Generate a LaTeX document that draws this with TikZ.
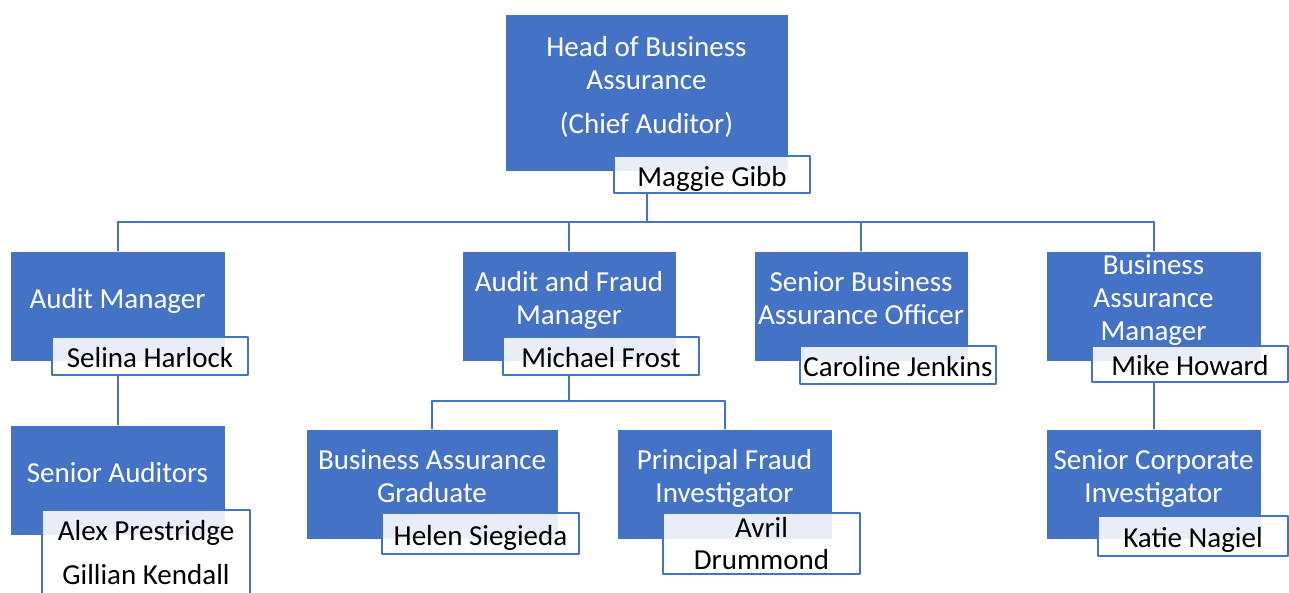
\documentclass[tikz,border=0pt]{standalone}
\usepackage{fontspec}
\setmainfont{Carlito}
\usetikzlibrary{calc}
\definecolor{rolefill}{HTML}{4472C4}
\definecolor{lineblue}{HTML}{4472C4}

\begin{document}
\begin{tikzpicture}[x=1pt, y=-1pt, line cap=round, line join=round,
    role/.style={rectangle, fill=rolefill, draw=white, line width=0.8pt,
        text=white, align=center, inner sep=0pt, text depth=16pt,
        font=\fontsize{29}{33}\selectfont},
    person/.style={rectangle, fill=white, fill opacity=0.88, text opacity=1,
        draw=lineblue, line width=1.6pt, text=black, align=center,
        inner sep=0pt, text height=23pt, text depth=0pt,
        font=\fontsize{29}{33}\selectfont},
    conn/.style={draw=lineblue, line width=2pt}]
    \useasboundingbox (0,0) rectangle (1289,592);

    % top of the chart
    \node[role, minimum width=283pt, minimum height=157pt] (head) at (646.5,92.5)
        {Head of Business\\Assurance\\[11pt](Chief Auditor)};
    \node[person, minimum width=196pt, minimum height=37pt] (maggie) at (712,174.5) {Maggie Gibb};

    %--- second row
    \node[role, minimum width=215pt, minimum height=110pt] (am) at (117.5,306) {Audit Manager};
    \node[person, minimum width=196pt, minimum height=38pt] (selina) at (150,356) {Selina Harlock};

    \node[role, minimum width=214pt, minimum height=110pt] (afm) at (569,306) {Audit and Fraud\\Manager};
    \node[person, minimum width=196pt, minimum height=38pt] (michael) at (601,356) {Michael Frost};

    \node[role, minimum width=214pt, minimum height=110pt] (sbao) at (861,306) {Senior Business\\Assurance Officer};
    \node[person, minimum width=196pt, minimum height=38pt] (caroline) at (898,365) {Caroline Jenkins};

    \node[role, minimum width=215pt, minimum height=110pt] (bam) at (1153.5,306) {Business\\Assurance\\Manager};
    \node[person, minimum width=196pt, minimum height=36pt] (mike) at (1190,364) {Mike Howard};

    %--- third row
    \node[role, minimum width=215pt, minimum height=110pt] (sa) at (117.5,480) {Senior Auditors};
    \node[person, minimum width=208pt, minimum height=90pt, text height=58pt] (alex) at (146,555)
        {Alex Prestridge\\[11pt]Gillian Kendall};

    \node[role, minimum width=252pt, minimum height=110pt] (bag) at (432,484) {Business Assurance\\Graduate};
    \node[person, minimum width=197pt, minimum height=41pt] (helen) at (480.5,533.5) {Helen Siegieda};

    \node[role, minimum width=215pt, minimum height=110pt] (pfi) at (724.5,484) {Principal Fraud\\Investigator};
    \node[person, minimum width=197pt, minimum height=61pt, text height=51pt] (avril) at (761.5,543.5)
        {Avril\\[-1pt]Drummond};

    \node[role, minimum width=215pt, minimum height=110pt] (sci) at (1153.5,484) {Senior Corporate\\Investigator};
    \node[person, minimum width=190pt, minimum height=40pt] (katie) at (1193,536) {Katie Nagiel};

    % connectors
    \coordinate (bus)  at (646.5,222);
    \coordinate (fork) at (569,401);
    \draw[conn] (maggie.south -| head.south) -- (bus);
    \draw[conn] (am.north |- bus) -- (bam.north |- bus);
    \foreach \n in {am,afm,sbao,bam}
        \draw[conn] (\n.north |- bus) -- (\n.north);
    \draw[conn] (selina.south -| am.south) -- (sa.north);
    \draw[conn] (michael.south -| afm.south) -- (fork);
    \draw[conn] (bag.north) |- (fork) -| (pfi.north);
    \draw[conn] (mike.south -| bam.south) -- (sci.north);
\end{tikzpicture}
\end{document}
